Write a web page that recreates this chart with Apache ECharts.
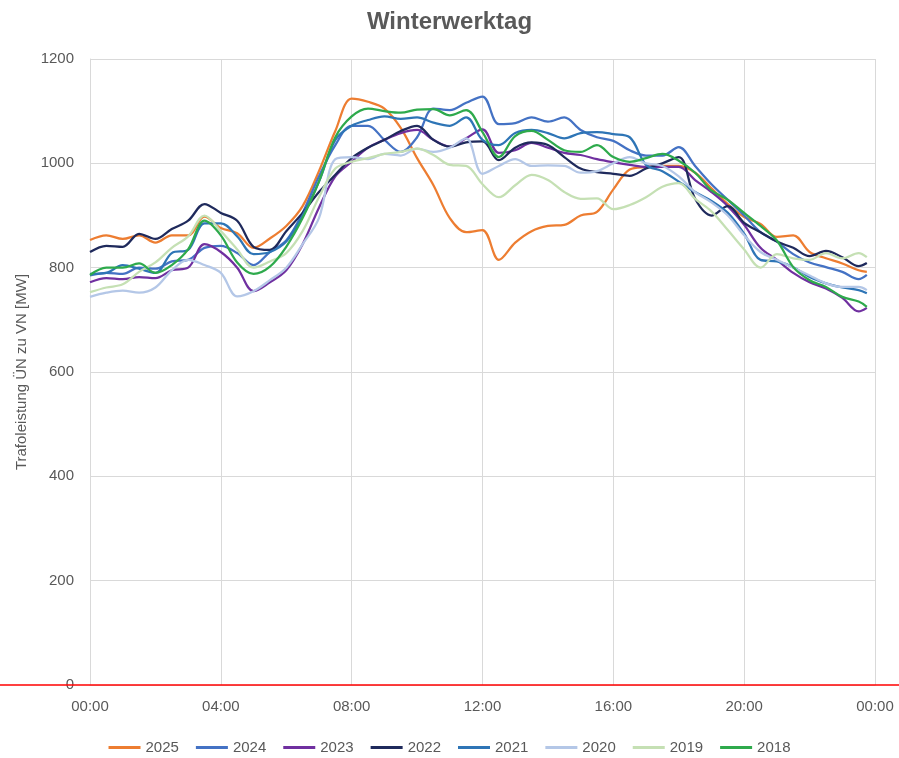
<!DOCTYPE html>
<html>
<head>
<meta charset="utf-8">
<script src="https://cdn.jsdelivr.net/npm/echarts@6/dist/echarts.min.js"></script>
<style>
  html, body { margin: 0; padding: 0; background: #fff; }
  #chart { width: 899px; height: 758px; }
</style>
</head>
<body>
<div id="chart"></div>
<script>
// half-hourly samples, last one at 23:45
const times = ['00:00','00:30','01:00','01:30','02:00','02:30','03:00','03:30','04:00','04:30',
  '05:00','05:30','06:00','06:30','07:00','07:30','08:00','08:30','09:00','09:30',
  '10:00','10:30','11:00','11:30','12:00','12:30','13:00','13:30','14:00','14:30',
  '15:00','15:30','16:00','16:30','17:00','17:30','18:00','18:30','19:00','19:30',
  '20:00','20:30','21:00','21:30','22:00','22:30','23:00','23:30','23:45'];

const years = ['2025', '2024', '2023', '2022', '2021', '2020', '2019', '2018'];
const colors = ['#ED7D31', '#4472C4', '#7030A0', '#1F2A5C', '#2E75B6', '#B4C7E7', '#C5E0B4', '#2EAA4C'];

const v2025 = [853,862,855,862,848,862,862,898,876,866, 838,856,880,918,985,1062,1124,1118,1105,1068,
  1010,958,895,868,872,815,848,870,880,882, 900,907,950,988,993,995,995,982,952,922,
  897,884,859,862,830,818,808,795,792];
const v2024 = [785,790,788,800,798,812,815,838,842,828, 805,830,852,905,975,1035,1072,1072,1045,1022,
  1050,1105,1102,1116,1128,1075,1077,1088,1080,1088, 1064,1050,1043,1025,1015,1015,1031,995,960,930,
  900,868,850,826,810,801,792,778,786];
const v2023 = [772,780,778,782,780,795,800,845,830,800, 755,772,795,845,915,975,1003,1030,1045,1058,
  1064,1045,1032,1048,1065,1020,1025,1039,1030,1020, 1016,1008,1002,997,993,993,993,968,945,918,
  882,838,815,790,772,760,742,716,723];
const v2022 = [830,842,840,865,855,874,890,922,905,890, 840,834,870,905,945,978,1010,1030,1045,1062,
  1072,1045,1032,1040,1042,1006,1030,1040,1035,1012, 990,983,980,976,990,1000,1012,932,900,918,
  886,868,850,838,822,832,820,803,809];
const v2021 = [788,790,805,798,790,828,834,885,885,860, 826,830,850,900,965,1045,1072,1083,1090,1085,
  1088,1078,1072,1088,1045,1035,1058,1064,1058,1048, 1058,1060,1056,1050,997,985,965,945,928,905,
  865,815,812,801,782,770,762,757,751];
const v2020 = [744,752,756,752,762,795,815,805,790,745, 755,776,800,845,895,1008,1012,1008,1018,1015,
  1028,1022,1030,1048,980,995,1008,995,996,995, 982,985,1000,1012,1000,995,975,945,925,900,
  862,830,815,800,785,770,763,763,757];
const v2019 = [753,762,768,792,810,838,860,900,870,835, 800,812,828,870,935,990,1003,1010,1018,1022,
  1028,1016,997,995,960,935,958,978,968,945, 932,933,912,920,935,955,962,932,908,872,
  835,800,826,818,815,828,818,828,820];
const v2018 = [786,800,800,808,790,805,835,890,862,810, 788,802,840,895,965,1050,1090,1105,1100,1097,
  1103,1104,1092,1102,1060,1012,1052,1062,1045,1025, 1022,1035,1012,1003,1010,1018,1005,982,948,930,
  905,880,852,801,776,763,744,735,725];

const yTicks = [0, 200, 400, 600, 800, 1000, 1200];

const values = [v2025, v2024, v2023, v2022, v2021, v2020, v2019, v2018];

function toHours(t) {
  const p = t.split(':');
  return Number(p[0]) + Number(p[1]) / 60;
}

const font = 'Liberation Sans, Arial, sans-serif';
const grey = '#595959';
const gridColor = '#D9D9D9';

const chart = echarts.init(document.getElementById('chart'));

chart.setOption({
  animation: false,
  backgroundColor: '#fff',
  title: {
    text: 'Winterwerktag',
    left: 'center',
    top: 5,
    textStyle: { fontFamily: font, fontSize: 24, fontWeight: 'bold', color: grey }
  },
  legend: {
    data: years.map(function (y) { return { name: y, icon: 'rect' }; }),
    top: 735,
    left: 'center',
    itemWidth: 32,
    itemHeight: 3,
    itemGap: 17,
    textStyle: { fontFamily: font, fontSize: 15, color: grey }
  },
  grid: { left: 90, right: 24, top: 59, bottom: 73 },
  xAxis: {
    type: 'value',
    min: 0,
    max: 24,
    interval: 4,
    axisLine: { lineStyle: { color: gridColor } },
    axisTick: { show: false },
    splitLine: { show: true, lineStyle: { color: gridColor } },
    axisLabel: {
      fontFamily: font, fontSize: 15, color: grey, margin: 14,
      formatter: function (h) {
        const hh = h % 24;
        return (hh < 10 ? '0' : '') + hh + ':00';
      }
    }
  },
  yAxis: {
    type: 'value',
    min: yTicks[0],
    max: yTicks[yTicks.length - 1],
    interval: 200,
    name: 'Trafoleistung ÜN zu VN [MW]',
    nameLocation: 'middle',
    nameGap: 54,
    nameTextStyle: { fontFamily: font, fontSize: 15, color: grey },
    axisLine: { show: true, lineStyle: { color: gridColor } },
    axisTick: { show: false },
    splitLine: { lineStyle: { color: gridColor } },
    axisLabel: {
      fontFamily: font, fontSize: 15, color: grey, margin: 16,
      formatter: function (v) { return String(v); }
    }
  },
  series: years.map(function (y, i) {
    return {
      name: y,
      type: 'line',
      smooth: 0.35,
      symbol: 'none',
      color: colors[i],
      lineStyle: { width: 2.25, color: colors[i] },
      data: times.map(function (t, k) { return [toHours(t), values[i][k]]; })
    };
  }),
  graphic: [{
    type: 'line',
    z: 100,
    shape: { x1: 0, y1: 685, x2: 899, y2: 685 },
    style: { stroke: '#FF0000', lineWidth: 1.5 }
  }]
});
</script>
</body>
</html>
